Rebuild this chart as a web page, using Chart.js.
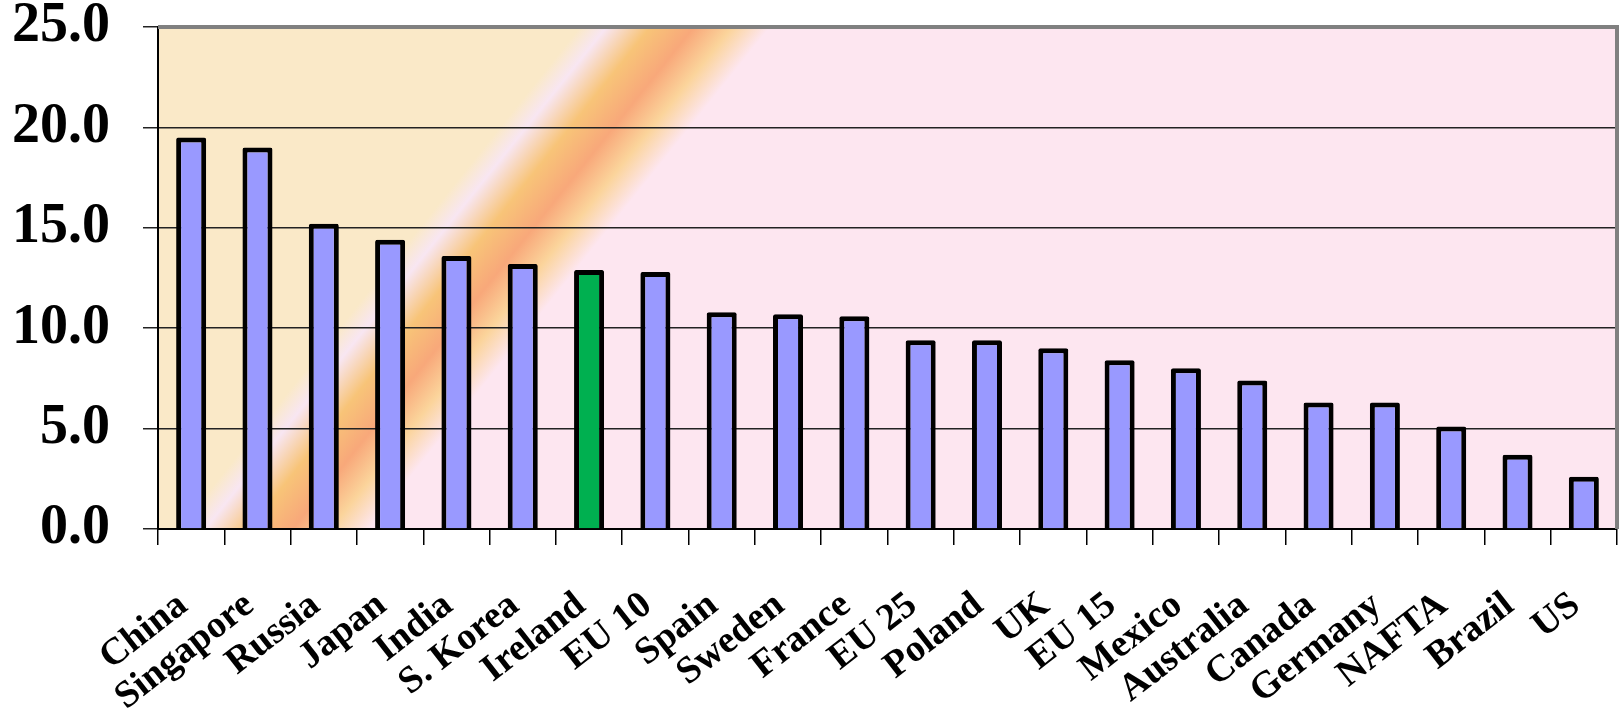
<!DOCTYPE html>
<html>
<head>
<meta charset="utf-8">
<script src="https://cdn.jsdelivr.net/npm/chart.js@4"></script>
<style>
  html, body { margin: 0; padding: 0; background: #fff; }
  #wrap { width: 1619px; height: 714px; position: relative; }
</style>
</head>
<body>
<div id="wrap"><canvas id="barChart"></canvas></div>
<script>
var categories = ["China", "Singapore", "Russia", "Japan", "India", "S. Korea", "Ireland", "EU 10",
  "Spain", "Sweden", "France", "EU 25", "Poland", "UK", "EU 15", "Mexico", "Australia",
  "Canada", "Germany", "NAFTA", "Brazil", "US"];
var values = [19.5, 19.0, 15.2, 14.4, 13.6, 13.2, 12.9, 12.8, 10.8, 10.7, 10.6, 9.4, 9.4,
  9.0, 8.4, 8.0, 7.4, 6.3, 6.3, 5.1, 3.7, 2.6];
var highlight = "Ireland";
var yTicks = [0, 5, 10, 15, 20, 25];

var serif = '"Liberation Serif", "Times New Roman", serif';

// plot background: beige / pink with a diagonal orange band
var plotBackground = {
  id: 'plotBackground',
  beforeDraw: function (chart) {
    var a = chart.chartArea, ctx = chart.ctx;
    var x0 = 580, y0 = a.top;
    var g = ctx.createLinearGradient(x0, y0, x0 + 115.9, y0 + 92.7);
    g.addColorStop(0, '#FAE9C8');
    g.addColorStop(0.14, '#F8E6F2');
    g.addColorStop(0.37, '#F8C478');
    g.addColorStop(0.6, '#F8A87A');
    g.addColorStop(0.8, '#FBD49B');
    g.addColorStop(1, '#FDE6F0');
    ctx.save();
    ctx.fillStyle = g;
    ctx.fillRect(a.left, a.top, a.right - a.left, a.bottom - a.top);
    ctx.restore();
  },
  beforeDatasetsDraw: function (chart) {
    var a = chart.chartArea, ctx = chart.ctx;
    ctx.save();
    ctx.strokeStyle = '#808080';
    ctx.lineWidth = 4;
    ctx.beginPath();
    ctx.moveTo(a.left, a.top);
    ctx.lineTo(a.right, a.top);
    ctx.lineTo(a.right, a.bottom);
    ctx.stroke();
    ctx.restore();
  }
};

var barData = {
  labels: categories,
  datasets: [{
    data: values,
    backgroundColor: categories.map(function (c) { return c === highlight ? '#00B050' : '#9999FF'; }),
    borderColor: '#000',
    borderWidth: 5,
    borderRadius: 2,
    borderSkipped: 'bottom',
    barPercentage: 0.453,
    categoryPercentage: 1.0
  }]
};

var myBarChart = new Chart(document.getElementById('barChart'), {
  type: 'bar',
  data: barData,
  plugins: [plotBackground],
  options: {
    responsive: true,
    maintainAspectRatio: false,
    animation: false,
    layout: { padding: { top: 0, right: 2, left: 0, bottom: 0 } },
    plugins: {
      legend: { display: false },
      tooltip: { enabled: false }
    },
    scales: {
      x: {
        afterFit: function (scale) {
          scale.height = 185;
          scale.paddingLeft = 0;
          scale.paddingRight = 0;
        },
        grid: {
          offset: true,
          drawOnChartArea: false,
          color: '#000',
          lineWidth: 1.5,
          tickLength: 16
        },
        border: { color: '#000', width: 2 },
        ticks: {
          autoSkip: false,
          maxRotation: 38,
          minRotation: 38,
          padding: 38,
          labelOffset: -8,
          color: '#000',
          font: { family: serif, size: 38, weight: 'bold' }
        }
      },
      y: {
        min: 0,
        max: 25,
        afterFit: function (scale) {
          scale.width = 158;
          scale.paddingTop = 27;
          scale.paddingBottom = 0;
        },
        afterBuildTicks: function (scale) {
          scale.ticks = yTicks.map(function (v) { return { value: v }; });
        },
        grid: {
          color: '#222',
          lineWidth: 1.5,
          tickLength: 15
        },
        border: { color: '#000', width: 2 },
        ticks: {
          padding: 33,
          color: '#000',
          font: { family: serif, size: 56, weight: 'bold', lineHeight: 1 },
          callback: function (v) { return Number(v).toFixed(1); }
        }
      }
    }
  }
});
</script>
</body>
</html>
